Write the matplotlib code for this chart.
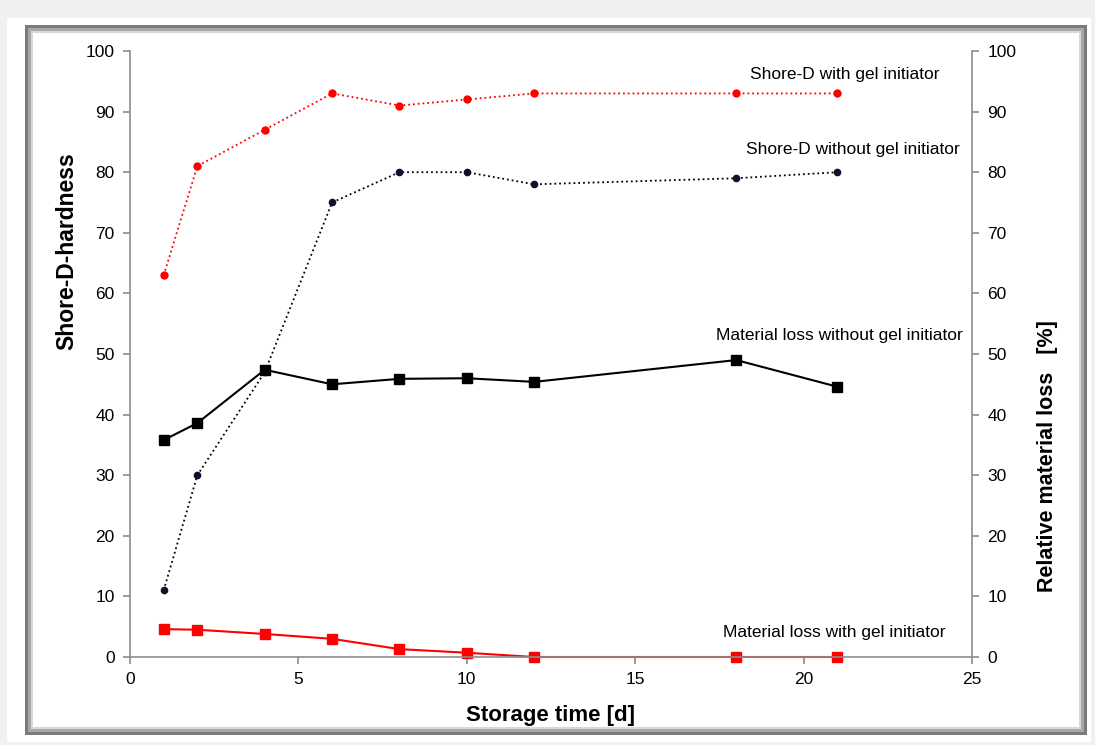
import matplotlib.pyplot as plt
from matplotlib.patches import Rectangle
import numpy as np

plt.rcParams['font.family'] = ['Liberation Sans', 'DejaVu Sans']

# storage time [d]
days = [1, 2, 4, 6, 8, 10, 12, 18, 21]
shore_with_gel = [63, 81, 87, 93, 91, 92, 93, 93, 93]
shore_without_gel = [11, 30, 47, 75, 80, 80, 78, 79, 80]
loss_without_gel = [35.8, 38.6, 47.4, 45.0, 45.9, 46.0, 45.4, 49.0, 44.6]
loss_with_gel = [4.6, 4.5, 3.8, 3.0, 1.3, 0.7, 0, 0, 0]

W, H = 1095, 745
fig = plt.figure(figsize=(W / 100, H / 100), dpi=100)
fig.patch.set_facecolor('#f0f0f0')

# frame around the chart (white margin + gray bevel)
def px_rect(x0, y0, x1, y1, **kw):
    return Rectangle((x0 / W, 1 - y1 / H), (x1 - x0) / W, (y1 - y0) / H,
                     transform=fig.transFigure, zorder=-10, **kw)

fig.patches.append(px_rect(7, 18, 1091, 742, facecolor='white', edgecolor='none'))
fig.patches.append(px_rect(25, 25, 1087, 735, facecolor='#7a7a7a', edgecolor='none'))
fig.patches.append(px_rect(28, 28, 1084, 732, facecolor='#a8a8a8', edgecolor='none'))
fig.patches.append(px_rect(31, 31, 1081, 729, facecolor='#d8d8d8', edgecolor='none'))
fig.patches.append(px_rect(33, 33, 1079, 727, facecolor='white', edgecolor='none'))

ax = fig.add_axes([130 / W, 1 - 657 / H, (972 - 130) / W, (657 - 51) / H])
ax.set_facecolor('none')

ax.plot(days, shore_with_gel, color='red', linestyle=':', linewidth=1.3,
        marker='o', markersize=5, markerfacecolor='red', markeredgecolor='red',
        clip_on=False)
ax.plot(days, shore_without_gel, color='black', linestyle=':', linewidth=1.3,
        marker='o', markersize=4.5, markerfacecolor='#10102a', markeredgecolor='#10102a',
        clip_on=False)
ax.plot(days, loss_without_gel, color='black', linestyle='-', linewidth=1.5,
        marker='s', markersize=6.5, markerfacecolor='black', markeredgecolor='black',
        clip_on=False)
ax.plot(days, loss_with_gel, color='red', linestyle='-', linewidth=1.5,
        marker='s', markersize=6.5, markerfacecolor='red', markeredgecolor='red',
        clip_on=False)

ax.set_xlim(0, 25)
ax.set_ylim(0, 100)
ax.set_xticks(np.arange(0, 26, 5))
ax.set_yticks(np.arange(0, 101, 10))

spine_col = '#8c8c8c'
for s in ['left', 'bottom', 'right']:
    ax.spines[s].set_color(spine_col)
    ax.spines[s].set_linewidth(1.2)
ax.spines['top'].set_visible(False)
ax.tick_params(axis='both', direction='out', color=spine_col, length=5,
               width=1.2, labelsize=12.5, pad=6)

ax2 = ax.twinx()
ax2.set_ylim(0, 100)
ax2.set_yticks(np.arange(0, 101, 10))
for s in ['left', 'bottom', 'right', 'top']:
    ax2.spines[s].set_visible(False)
ax2.tick_params(axis='y', direction='out', color=spine_col, length=5,
                width=1.2, labelsize=12.5, pad=6)
ax.set_zorder(ax2.get_zorder() + 1)

ax.set_xlabel('Storage time [d]', fontsize=16, fontweight='bold', labelpad=13)
fig.text(67 / W, 1 - 251 / H, 'Shore-D-hardness', rotation=90, fontsize=16.5,
         fontweight='bold', ha='center', va='center')
fig.text(1048 / W, 1 - 456 / H, 'Relative material loss   [%]', rotation=90,
         fontsize=15.5, fontweight='bold', ha='center', va='center')

note = dict(fontsize=12.5, ha='left', va='center', transform=ax.transData)
ax.text(18.4, 96.2, 'Shore-D with gel initiator', **note)
ax.text(18.3, 83.8, 'Shore-D without gel initiator', **note)
ax.text(17.4, 53.0, 'Material loss without gel initiator', **note)
ax.text(17.6, 4.1, 'Material loss with gel initiator', **note)

fig.savefig('out.png', dpi=100, facecolor=fig.get_facecolor())
